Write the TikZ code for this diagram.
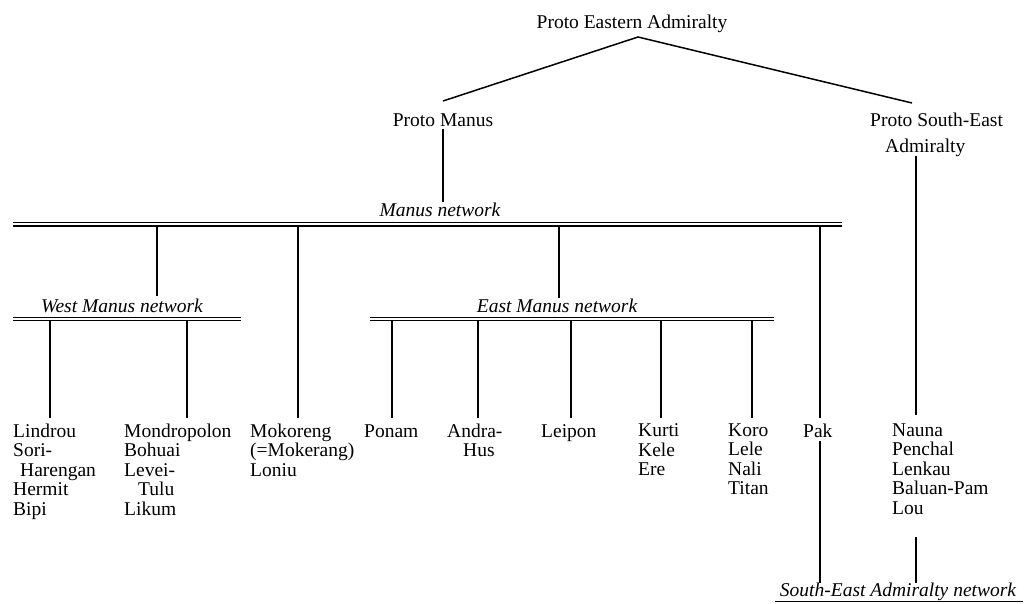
\documentclass[tikz,border=0pt]{standalone}
\usepackage{fontspec}
\setmainfont{Liberation Serif}
\begin{document}
\begin{tikzpicture}[x=1pt,y=-1pt,
  every node/.style={inner sep=0pt, font=\fontsize{19.5}{19.5}\selectfont},
  lbl/.style={anchor=north west, align=left, execute at begin node=\strut},
  proto/.style={anchor=base},
  net/.style={anchor=base, font=\fontsize{19.5}{19.5}\selectfont\itshape},
  dblline/.style={draw, double, double distance=2.2pt, line width=1.2pt},
  conn/.style={draw, line width=1.5pt}]
\useasboundingbox (0,0) rectangle (1024,603);

% top level
\node[proto] (pea) at (632,28) {Proto Eastern Admiralty};
\coordinate (apex) at (638,37);
\node[proto] (pm) at (443,126) {Proto Manus};
\node[anchor=base west, align=left] (psea) at (870,152) {Proto South-East\\[6.5pt]\hspace*{15pt}Admiralty};
\coordinate (pmtop) at (443,101);
\coordinate (pseatop) at (912,103);
\draw[conn] (pmtop) -- (apex) -- (pseatop);

% Manus network
\node[net] (mnet) at (440,216) {Manus network};
\coordinate (mnL) at (13,224.3);
\coordinate (mnR) at (842,224.3);
\draw[dblline] (mnL) -- (mnR);
\draw[conn] (pm.south) ++(0,3) coordinate (pmb) -- (pmb |- mnet.north);

% West Manus network
\node[net] (wnet) at (122,312) {West Manus network};
\coordinate (wnL) at (13,318.8);
\coordinate (wnR) at (241,318.8);
\draw[dblline] (wnL) -- (wnR);

% East Manus network
\node[net] (enet) at (557,312) {East Manus network};
\coordinate (enL) at (370,318.8);
\coordinate (enR) at (774,318.8);
\draw[dblline] (enL) -- (enR);

% South-East Admiralty network
\node[net] (snet) at (898,596) {South-East Admiralty network};
\draw[line width=1.2pt] (775,601.5) coordinate (snL) -- (1023,601.5) coordinate (snR);

% leaf labels
\node[lbl] (lindrou) at (13,423.4) {Lindrou\\Sori-\\\hspace*{7pt}Harengan\\Hermit\\Bipi};
\node[lbl] (mondro) at (124,423.4) {Mondropolon\\Bohuai\\Levei-\\\hspace*{14pt}Tulu\\Likum};
\node[lbl] (mokor) at (250,423.4) {Mokoreng\\(=Mokerang)\\Loniu};
\node[lbl] (ponam) at (364,423.4) {Ponam};
\node[lbl] (andra) at (447,423.4) {Andra-\\\hspace*{16pt}Hus};
\node[lbl] (leipon) at (541,423.4) {Leipon};
\node[lbl] (kurti) at (638,423.4) {Kurti\\Kele\\Ere};
\node[lbl] (koro) at (728,423.4) {Koro\\Lele\\Nali\\Titan};
\node[lbl] (pak) at (803,423.4) {Pak};
\node[lbl] (nauna) at (892,423.4) {Nauna\\Penchal\\Lenkau\\Baluan-Pam\\Lou};

% connectors from Manus network
\draw[conn] (157,226) coordinate (m1) -- (157,296) coordinate (w0);
\draw[conn] (298,226) coordinate (m2) -- (298,418) coordinate (mk);
\draw[conn] (559,226) coordinate (m3) -- (559,298) coordinate (e0);
\draw[conn] (820,226) coordinate (m4) -- (820,418) coordinate (pk);
\draw[conn] (820,441) coordinate (pkb) -- (820,583) coordinate (s1);

% connectors from West Manus network
\draw[conn] (50,320) coordinate (w1) -- (50,418) coordinate (l1);
\draw[conn] (187,320) coordinate (w2) -- (187,418) coordinate (l2);

% connectors from East Manus network
\foreach \x in {392,478,571,661,752}
  \draw[conn] (\x,320) -- (\x,418);

% Proto South-East Admiralty branch
\draw[conn] (916,156) coordinate (ps1) -- (916,415) coordinate (ps2);
\draw[conn] (916,537) coordinate (lou) -- (916,583) coordinate (s2);
\end{tikzpicture}
\end{document}
